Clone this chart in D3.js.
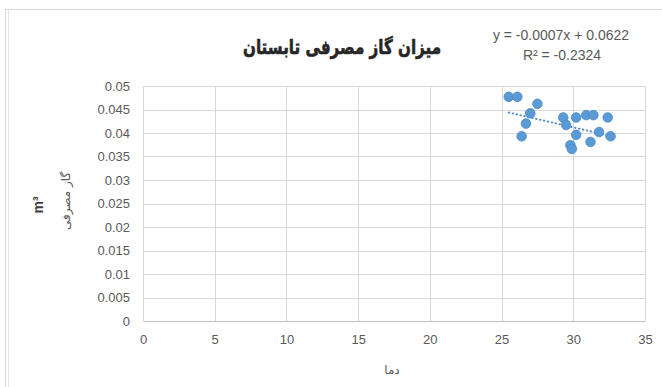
<!DOCTYPE html>
<html>
<head>
<meta charset="utf-8">
<script src="https://cdn.jsdelivr.net/npm/d3@7"></script>
<style>
  body { margin: 0; background: #fff; }
  svg text { font-family: "Liberation Sans", Arial, sans-serif; }
</style>
</head>
<body>
<div id="chart-area"></div>
<script>
// Data
const tempValues = [25.5, 26.1, 27.5, 27.0, 26.7, 26.4, 29.3, 29.5, 30.2, 30.9, 31.4, 32.4, 31.8, 32.6, 30.2, 31.2, 29.8, 29.9]
const gasValues = [0.0477, 0.0477, 0.0462, 0.0442, 0.0420, 0.0393, 0.0433, 0.0417, 0.0433, 0.0438, 0.0438, 0.0433, 0.0402, 0.0393, 0.0396, 0.0381, 0.0374, 0.0366]
const xTicks = [0, 5, 10, 15, 20, 25, 30, 35]
const yTicks = [0, 0.005, 0.01, 0.015, 0.02, 0.025, 0.03, 0.035, 0.04, 0.045, 0.05]
const trendSlope = -0.0007
const trendIntercept = 0.0622

const W = 662, H = 387
const MARGIN = { LEFT: 143, RIGHT: 17, TOP: 86, BOTTOM: 66 }
const WIDTH = W - MARGIN.LEFT - MARGIN.RIGHT
const HEIGHT = H - MARGIN.TOP - MARGIN.BOTTOM

const data = tempValues.map((t, i) => ({ t: t, gas: gasValues[i] }))

const svg = d3.select("#chart-area").append("svg")
  .attr("width", W)
  .attr("height", H)

// chart frame (double edge on the left as in the screenshot)
svg.append("rect")
  .attr("x", 5.5).attr("y", 9.5)
  .attr("width", W + 10).attr("height", H + 10)
  .attr("fill", "none")
  .attr("stroke", "#d9d9d9")
svg.append("line")
  .attr("x1", 8.5).attr("x2", 8.5)
  .attr("y1", 10).attr("y2", H)
  .attr("stroke", "#e6e6e6")

const g = svg.append("g")
  .attr("transform", `translate(${MARGIN.LEFT}, ${MARGIN.TOP})`)

const x = d3.scaleLinear().domain([0, 35]).range([0, WIDTH])
const y = d3.scaleLinear().domain([0, 0.05]).range([HEIGHT, 0])

// gridlines
g.append("g")
  .selectAll("line")
  .data(yTicks.slice(1))
  .enter().append("line")
  .attr("x1", 0).attr("x2", WIDTH)
  .attr("y1", d => Math.round(y(d)) + 0.5)
  .attr("y2", d => Math.round(y(d)) + 0.5)
  .attr("stroke", "#d9d9d9")

g.append("g")
  .selectAll("line")
  .data(xTicks)
  .enter().append("line")
  .attr("y1", 0).attr("y2", HEIGHT)
  .attr("x1", d => Math.round(x(d)) + 0.5)
  .attr("x2", d => Math.round(x(d)) + 0.5)
  .attr("stroke", "#d9d9d9")

// x axis
const xAxisCall = d3.axisBottom(x).tickValues(xTicks).tickSize(0).tickPadding(14)
const xAxis = g.append("g")
  .attr("transform", `translate(0, ${HEIGHT})`)
  .call(xAxisCall)
xAxis.select(".domain").attr("stroke", "#bfbfbf")
xAxis.selectAll("text").attr("fill", "#595959").attr("font-size", "13px")
  .style("font-family", "'Liberation Sans', Arial, sans-serif")

// y axis
const yAxisCall = d3.axisLeft(y).tickValues(yTicks).tickSize(0).tickPadding(13)
  .tickFormat(d => d3.format("")(+d.toFixed(3)))
const yAxis = g.append("g").call(yAxisCall)
yAxis.select(".domain").remove()
yAxis.selectAll("text").attr("fill", "#595959").attr("font-size", "13px")
  .style("font-family", "'Liberation Sans', Arial, sans-serif")

// trendline
const xMin = d3.min(tempValues), xMax = d3.max(tempValues)
g.append("line")
  .attr("x1", x(xMin)).attr("y1", y(trendSlope * xMin + trendIntercept))
  .attr("x2", x(xMax)).attr("y2", y(trendSlope * xMax + trendIntercept))
  .attr("stroke", "#5b8fc7")
  .attr("stroke-width", 2)
  .attr("stroke-linecap", "round")
  .attr("stroke-dasharray", "0.5,3.5")

// points
g.selectAll("circle")
  .data(data)
  .enter().append("circle")
  .attr("cx", d => x(d.t))
  .attr("cy", d => y(d.gas))
  .attr("r", 4.8)
  .attr("fill", "#5b9bd5")
  .attr("stroke", "#4a89c8")
  .attr("stroke-width", 0.8)

// title
svg.append("text")
  .attr("x", 342).attr("y", 54)
  .attr("text-anchor", "middle")
  .attr("font-size", "20px")
  .attr("font-weight", "bold")
  .attr("fill", "#262626")
  .attr("stroke", "#262626")
  .attr("stroke-width", 0.6)
  .attr("textLength", 198)
  .attr("lengthAdjust", "spacingAndGlyphs")
  .style("font-family", "'DejaVu Sans', sans-serif")
  .text("میزان گاز مصرفی تابستان")

// trendline label
svg.append("text")
  .attr("x", 561).attr("y", 40)
  .attr("text-anchor", "middle")
  .attr("font-size", "14px")
  .attr("fill", "#595959")
  .text("y = -0.0007x + 0.0622")
svg.append("text")
  .attr("x", 562).attr("y", 60)
  .attr("text-anchor", "middle")
  .attr("font-size", "14px")
  .attr("fill", "#595959")
  .text("R² = -0.2324")

// y axis titles
svg.append("text")
  .attr("transform", "translate(43, 205) rotate(-90)")
  .attr("text-anchor", "middle")
  .attr("font-size", "14px")
  .attr("font-weight", "bold")
  .attr("fill", "#404040")
  .text("m³")
svg.append("text")
  .attr("transform", "translate(70, 201) rotate(-90)")
  .attr("text-anchor", "middle")
  .attr("font-size", "12px")
  .attr("fill", "#595959")
  .style("font-family", "'DejaVu Sans', sans-serif")
  .text("گاز مصرفی")

// x axis title
svg.append("text")
  .attr("x", 392).attr("y", 374)
  .attr("text-anchor", "middle")
  .attr("font-size", "12px")
  .attr("fill", "#595959")
  .style("font-family", "'DejaVu Sans', sans-serif")
  .text("دما")
</script>
</body>
</html>
